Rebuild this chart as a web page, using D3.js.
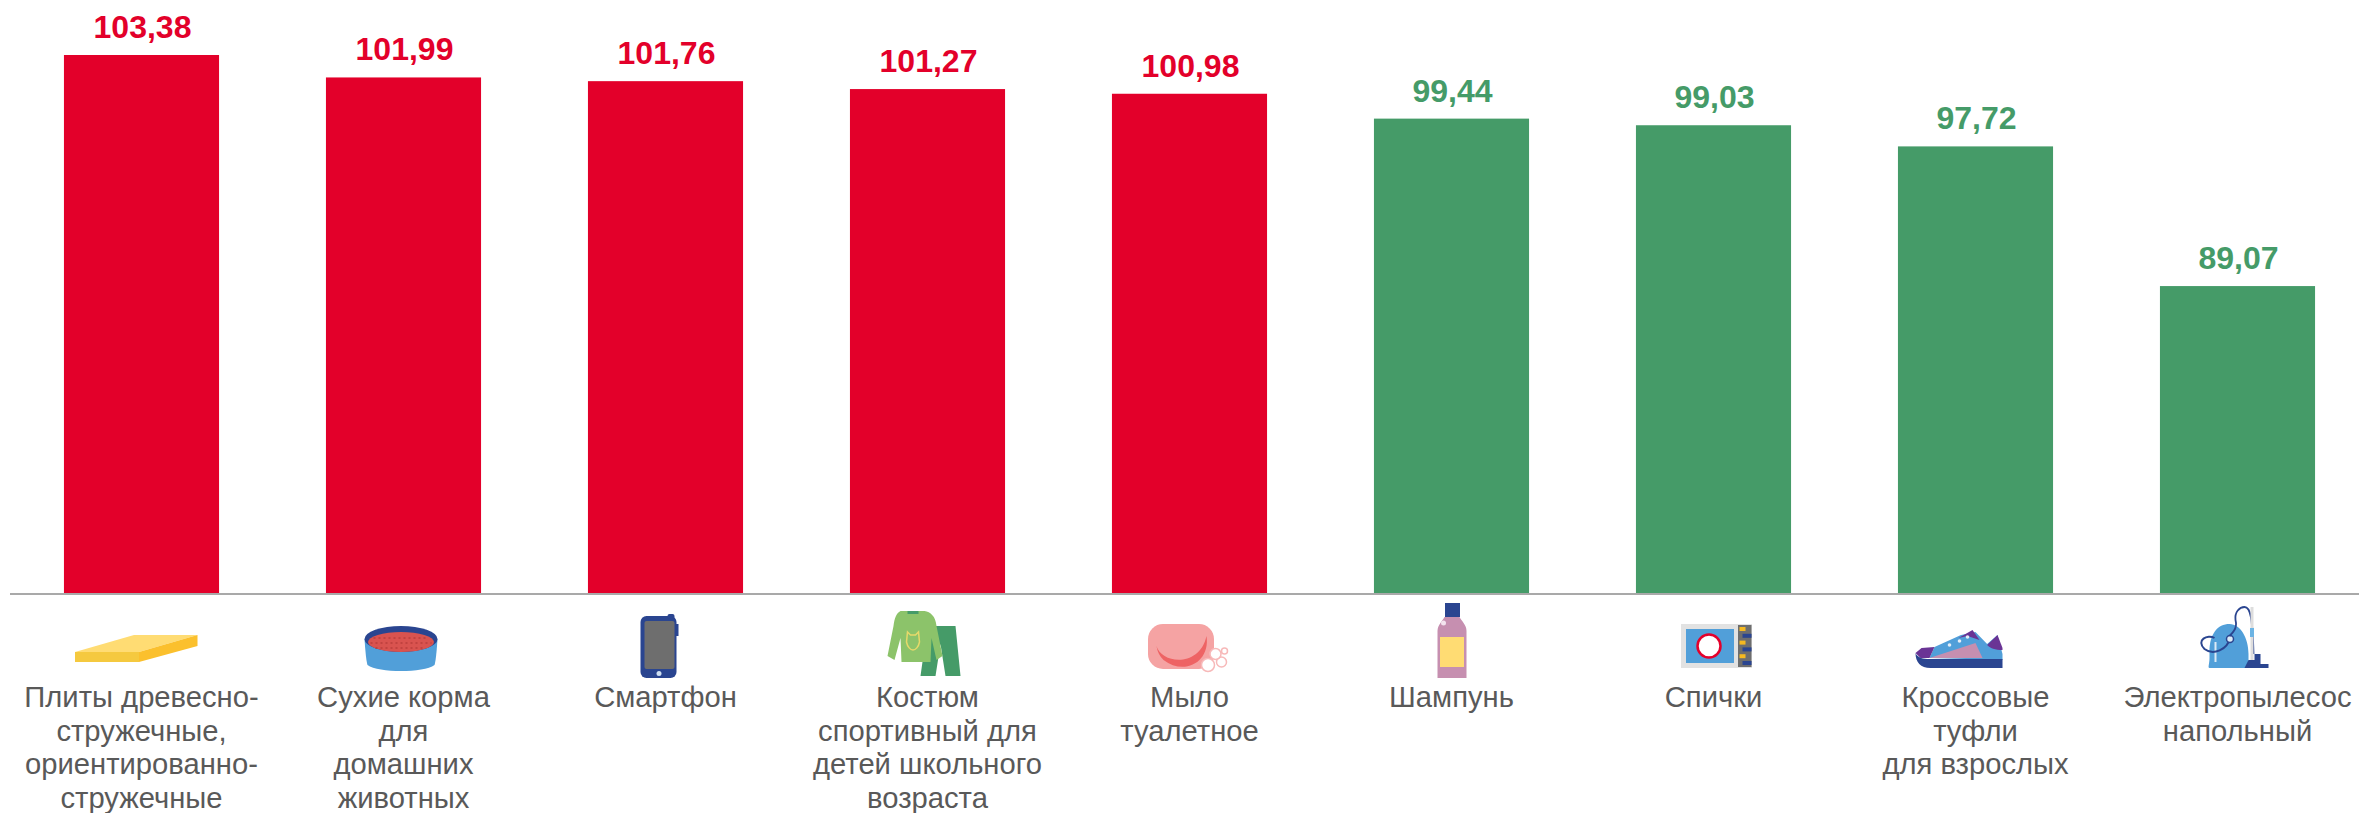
<!DOCTYPE html>
<html><head><meta charset="utf-8">
<script src="https://cdn.jsdelivr.net/npm/d3@7/dist/d3.min.js"></script>
<style>html,body{margin:0;padding:0;background:#fff;overflow:hidden}svg{display:block}text{font-family:"Liberation Sans",Arial,sans-serif}</style>
</head><body><svg id="c" width="2359" height="813"></svg>
<script>
const categories = ["plates","food","phone","suit","soap","shampoo","matches","shoes","vacuum"];
const labelLines = [
 ["Плиты древесно-","стружечные,","ориентированно-","стружечные"],
 ["Сухие корма","для","домашних","животных"],
 ["Смартфон"],
 ["Костюм","спортивный для","детей школьного","возраста"],
 ["Мыло","туалетное"],
 ["Шампунь"],
 ["Спички"],
 ["Кроссовые","туфли","для взрослых"],
 ["Электропылесос","напольный"]
];
const values = [103.38,101.99,101.76,101.27,100.98,99.44,99.03,97.72,89.07];
const valueLabels = ["103,38","101,99","101,76","101,27","100,98","99,44","99,03","97,72","89,07"];
const RED="#e3002a", GREEN="#459b68";
const svg=d3.select("#c");
const baseY=594;
const x=d3.scaleBand().domain(categories).range([10.5,2368.5]).paddingInner(0.408).paddingOuter(0.204);
const y=d3.scaleLinear().domain([70,103.38]).range([baseY,55]);
const color=v=>v>100?RED:GREEN;
const data=categories.map((c,i)=>({c,v:values[i],t:valueLabels[i],l:labelLines[i]}));

svg.append("g").selectAll("rect").data(data).join("rect")
 .attr("x",d=>x(d.c)).attr("y",d=>y(d.v)).attr("width",x.bandwidth()).attr("height",d=>baseY-y(d.v)).attr("fill",d=>color(d.v));
svg.append("g").selectAll("text").data(data).join("text")
 .attr("x",d=>x(d.c)+x.bandwidth()/2+1).attr("y",d=>y(d.v)-17).attr("text-anchor","middle")
 .attr("font-size",32).attr("font-weight",700).attr("fill",d=>color(d.v)).text(d=>d.t);

const ax=svg.append("g").attr("transform",`translate(0,${baseY})`).call(d3.axisBottom(x).tickSize(0).tickFormat(""));
ax.select(".domain").attr("stroke","#a9a9a9").attr("stroke-width",2).attr("d","M10,0H2359");
ax.selectAll(".tick text").remove();
ax.selectAll(".tick").data(data).append("text")
 .attr("text-anchor","middle").attr("font-size",29.2).attr("fill","#595959")
 .selectAll("tspan").data(d=>d.l).join("tspan").attr("x",0).attr("y",(d,i)=>113+i*33.7).text(d=>d);

const icons={
 plates(g){
  g.append("path").attr("d","M-66.5,58L-7.5,41H56L-2.5,58Z").attr("fill","#ffdc73");
  g.append("path").attr("d","M-66.5,58H-2.5V68H-66.5Z").attr("fill","#f5c93f");
  g.append("path").attr("d","M-2.5,58L56,41V52L-2.5,68Z").attr("fill","#fbc02d");
 },
 food(g){
  g.append("path").attr("d","M-39,45C-38,60 -37,68 -36,71C-25,79 20,79 31,71C32,68 33,60 34,45Z").attr("fill","#519fd9");
  g.append("ellipse").attr("cx",-2.5).attr("cy",45).attr("rx",36.5).attr("ry",13).attr("fill","#2a4590");
  g.append("ellipse").attr("cx",-2.5).attr("cy",48).attr("rx",33).attr("ry",10).attr("fill","#d9534f");
  g.append("path").attr("d","M-30,44H25M-33,49H28M-28,54H22").attr("stroke","#b93f3c").attr("stroke-width",1.5).attr("stroke-dasharray","2 3").attr("fill","none");
 },
 phone(g){
  g.append("rect").attr("x",-25).attr("y",22).attr("width",36).attr("height",62).attr("rx",6).attr("fill","#2a4590");
  g.append("rect").attr("x",2).attr("y",20).attr("width",7).attr("height",5).attr("rx",2).attr("fill","#2a4590");
  g.append("rect").attr("x",10).attr("y",30).attr("width",3).attr("height",12).attr("fill","#2a4590");
  g.append("rect").attr("x",-21).attr("y",27).attr("width",30).attr("height",48).attr("rx",2).attr("fill","#6e6e6e");
  g.append("circle").attr("cx",-6.5).attr("cy",79.5).attr("r",2.5).attr("fill","#cfe0f2");
 },
 suit(g){
  g.append("path").attr("d","M0,32H28L33,82H18L13,50L8,82H-7Z").attr("fill","#459b68");
  g.append("path").attr("d","M-27,17H-3C3,18 8,22 9,32L15,62L9,66L4,44L3,68H-26L-27,44L-33,66L-40,62L-34,32C-33,24 -31,19 -27,17Z").attr("fill","#8cc36a");
  g.append("path").attr("d","M-20,17H-9V20H-20Z").attr("fill","#459b68");
  g.append("path").attr("d","M-20,38L-17,41H-12L-9,38L-8,48C-9,53 -12,56 -14.5,56C-17,56 -20,53 -21,48Z").attr("fill","none").attr("stroke","#e6d96a").attr("stroke-width",1.5);
 },
 soap(g){
  g.append("rect").attr("x",-41.5).attr("y",30).attr("width",66).attr("height",45).attr("rx",15).attr("fill","#f5a3a3");
  g.append("path").attr("d","M-33,52C-28,70 10,74 17,42C21,68 -5,82 -26,66C-30,62 -32,58 -33,52Z").attr("fill","#ee6364");
  const b=g.append("g").attr("fill","#fff").attr("stroke","#f7b9b9").attr("stroke-width",1.5);
  [[18.5,71,6.5],[32,68,5],[26,60,5.5],[35,57,3]].forEach(p=>b.append("circle").attr("cx",p[0]).attr("cy",p[1]).attr("r",p[2]));
 },
 shampoo(g){
  g.append("path").attr("d","M-14,84V37C-14,31 -9,27 -7,23H8C10,27 15,31 15,37V84Z").attr("fill","#c68fb0");
  g.append("rect").attr("x",-6.5).attr("y",9).attr("width",15).attr("height",14).attr("fill","#2a4590");
  g.append("rect").attr("x",-11.5).attr("y",43).attr("width",24).attr("height",30).attr("fill","#ffdc73");
  g.append("circle").attr("cx",-8).attr("cy",29).attr("r",2.5).attr("fill","#f3e3ee");
 },
 matches(g){
  g.append("rect").attr("x",-32.5).attr("y",30).attr("width",71).attr("height",44).attr("fill","#e2e2e2");
  g.append("rect").attr("x",-27.5).attr("y",35).attr("width",48).attr("height",34).attr("fill","#519fd9");
  g.append("circle").attr("cx",-4.5).attr("cy",52).attr("r",11.5).attr("fill","#fff").attr("stroke","#e4002b").attr("stroke-width",2.5);
  g.append("rect").attr("x",24.5).attr("y",31).attr("width",13.5).attr("height",42).attr("fill","#6e6e6e");
  g.selectAll(null).data(d3.range(6)).join("rect").attr("x",i=>i%2?29:26).attr("y",i=>33+i*6.8).attr("width",i=>i%2?9:6).attr("height",4).attr("fill",i=>i%2?"#2a4590":"#f5b921");
 },
 shoes(g){
  g.append("path").attr("d","M-46,64L-41,53L-14.5,41L0,38L11.6,50L22,41L27,60V66Z").attr("fill","#519fd9");
  g.append("path").attr("d","M-17,44L-3,36L4,46L-8,42Z").attr("fill","#6a3495");
  g.append("path").attr("d","M11.6,51L22,41L27,54V56C20,56 14,54 11.6,51Z").attr("fill","#6a3495");
  g.append("path").attr("d","M-46,64L0,49L7,64Z").attr("fill","#c68fb0");
  g.append("path").attr("d","M-60,59L-54,54L-41,53L-46,64H-55Z").attr("fill","#6a3495");
  g.append("path").attr("d","M-60,59C-58,64 -52,65 -46,65H27V74H-45C-55,74 -60,68 -60,59Z").attr("fill","#2a4590");
  g.selectAll(null).data([[-26,51],[-16,47],[-8,43]]).join("circle").attr("cx",d=>d[0]).attr("cy",d=>d[1]).attr("r",1.8).attr("fill","#e6eef7");
 },
 vacuum(g){
  g.append("path").attr("d","M-28,74C-30,74 -28,70 -28,64V58C-28,40 -20,30 -8,30C3,30 11,44 11,60V74Z").attr("fill","#519fd9");
  g.append("rect").attr("x",-23).attr("y",48).attr("width",2).attr("height",20).attr("fill","#dbeaf6");
  g.append("path").attr("d","M-8,45C-10,55 -24,62 -33,55C-42,46 -30,40 -23,44").attr("fill","none").attr("stroke","#2a4590").attr("stroke-width",2);
  g.append("circle").attr("cx",-7.5).attr("cy",45).attr("r",3.5).attr("fill","#dbeaf6").attr("stroke","#2a4590").attr("stroke-width",1.5);
  g.append("path").attr("d","M-8,42C-4,38 0,34 -2,26C-3,18 2,13 7,13C13,13 15,24 16,60").attr("fill","none").attr("stroke","#2a4590").attr("stroke-width",1.8);
  g.append("rect").attr("x",13).attr("y",13).attr("width",3).attr("height",54).attr("fill","#dddddd");
  g.append("rect").attr("x",12.5).attr("y",34).attr("width",4).attr("height",9).attr("fill","#6cb4e4");
  g.append("path").attr("d","M11,66H17V60H23V70H31V74H7Z").attr("fill","#2a4590");
 }
};
ax.selectAll(".tick").each(function(d){
 icons[d.c](d3.select(this).append("g").attr("class","icon"));
});
</script></body></html>
